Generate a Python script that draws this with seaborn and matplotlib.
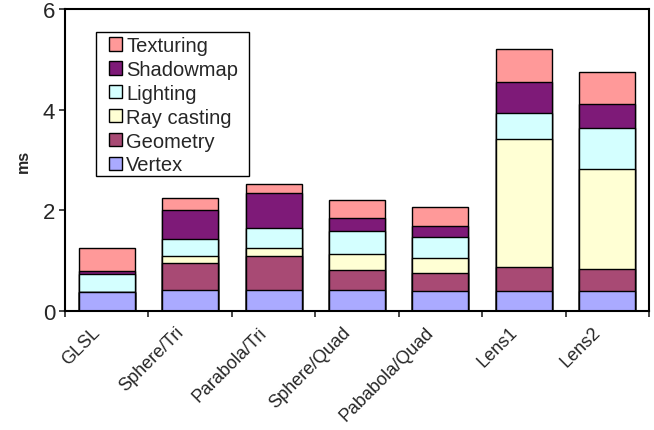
import numpy as np
import pandas as pd
import matplotlib
matplotlib.use("Agg")
import matplotlib.pyplot as plt
import matplotlib.transforms as mtransforms
import seaborn as sns
from matplotlib.patches import Patch, Rectangle

# render times per stage (ms)
methods = ["GLSL", "Sphere/Tri", "Parabola/Tri", "Sphere/Quad",
           "Pababola/Quad", "Lens1", "Lens2"]
vertex = [0.37, 0.41, 0.41, 0.41, 0.40, 0.40, 0.40]
geometry = [0.00, 0.55, 0.68, 0.40, 0.36, 0.475, 0.44]
ray_casting = [0.00, 0.14, 0.17, 0.33, 0.29, 2.535, 1.99]
lighting = [0.36, 0.34, 0.38, 0.44, 0.42, 0.53, 0.80]
shadowmap = [0.065, 0.57, 0.71, 0.26, 0.21, 0.61, 0.49]
texturing = [0.465, 0.24, 0.17, 0.37, 0.38, 0.65, 0.62]

stages = ["Vertex", "Geometry", "Ray casting", "Lighting", "Shadowmap", "Texturing"]
colors = ["#aaaaff", "#a84a74", "#ffffd4", "#d4ffff", "#7e1a78", "#ff9999"]

df = pd.DataFrame({"Vertex": vertex, "Geometry": geometry,
                   "Ray casting": ray_casting, "Lighting": lighting,
                   "Shadowmap": shadowmap, "Texturing": texturing},
                  index=methods)
cum = df.cumsum(axis=1)

sns.set_style("white")
plt.rcParams['font.family'] = ['Liberation Sans', 'DejaVu Sans']

fig, ax = plt.subplots(figsize=(6.54, 4.31), dpi=100)
fig.subplots_adjust(left=65/654, right=649/654, top=1-10/431, bottom=1-312/431)

# stacked bars: draw running totals from the top stage down
for stage, col in zip(stages[::-1], colors[::-1]):
    sns.barplot(x=methods, y=cum[stage].values, color=col, width=0.67,
                edgecolor="black", linewidth=1.0, saturation=1, ax=ax)

ax.set_ylim(0, 6)
ax.set_xlim(-0.5, len(methods) - 0.5)
ax.set_yticks([0, 2, 4, 6])
ax.set_ylabel("ms", fontsize=11.5, fontweight="bold", labelpad=9)
ax.tick_params(axis="y", labelsize=16, length=4, width=1.2, direction="out", left=True, pad=3)
ax.set_xticks(np.arange(len(methods)))
ax.set_xticklabels(methods, rotation=45, ha="right", rotation_mode="anchor", fontsize=13)
ax.tick_params(axis="x", which="major", length=0, pad=9)
shift = mtransforms.ScaledTranslation(-15/100, 0, fig.dpi_scale_trans)
for lab in ax.get_xticklabels():
    lab.set_transform(lab.get_transform() + shift)
ax.set_xticks(np.arange(-0.5, len(methods)), minor=True)
ax.tick_params(axis="x", which="minor", length=4, width=1.2, direction="out", bottom=True)
for sp in ax.spines.values():
    sp.set_color("black")
    sp.set_linewidth(1.5)
    sp.set_visible(True)

# legend box drawn separately so its padding can match the original
ax.add_patch(Rectangle((0.053, 0.447), 0.262, 0.477, transform=ax.transAxes,
                       facecolor="white", edgecolor="black", linewidth=1.0, zorder=5))
handles = [Patch(facecolor=c, edgecolor="black", linewidth=1.0, label=s)
           for s, c in zip(stages[::-1], colors[::-1])]
leg = ax.legend(handles=handles, loc="upper left", bbox_to_anchor=(0.0753, 0.91),
                fontsize=14.5, frameon=False, handlelength=0.65, handleheight=0.65,
                handletextpad=0.2, labelspacing=0.24, borderpad=0, borderaxespad=0)
leg.set_zorder(6)

fig.savefig("out.png", dpi=100)
